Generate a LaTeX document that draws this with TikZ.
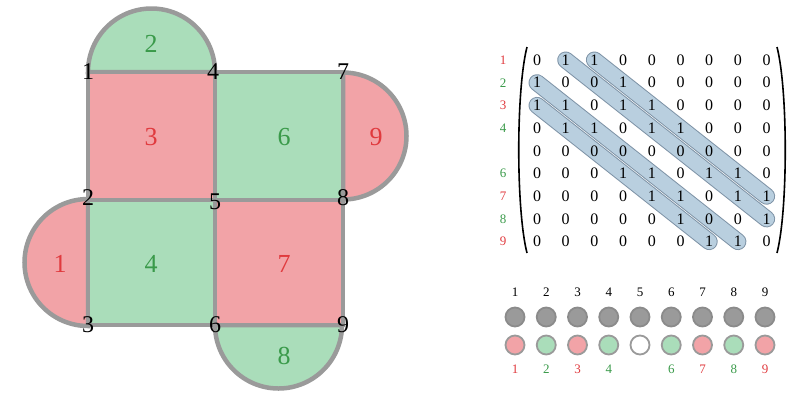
\documentclass[tikz,border=0pt]{standalone}
\usepackage{fontspec}
\setmainfont{Liberation Serif}
\begin{document}
\begin{tikzpicture}[x=1pt,y=-1pt,
  red/.style={fill=fr,draw=gb,line width=4.5pt},
  grn/.style={fill=fg,draw=gb,line width=4.5pt},
  corner/.style={font=\fontsize{24}{24}\selectfont,text=black},
  rl/.style={font=\fontsize{26}{26}\selectfont,text=tr},
  gl/.style={font=\fontsize{26}{26}\selectfont,text=tg},
  ent/.style={font=\fontsize{16}{16}\selectfont,inner sep=0pt},
  sml/.style={font=\fontsize{13}{13}\selectfont,inner sep=0pt},
  dot/.style={circle,minimum size=19pt,inner sep=0pt,line width=1.8pt}]
\definecolor{fr}{HTML}{F2A3A7}
\definecolor{fg}{HTML}{AADDBA}
\definecolor{gb}{HTML}{9A9A9A}
\definecolor{tr}{HTML}{E03A3E}
\definecolor{tg}{HTML}{3A9A4A}
\definecolor{bf}{HTML}{B9CFDF}
\definecolor{bd}{HTML}{5E7890}
\useasboundingbox (0,0) rectangle (800,410);
% semicircles
\draw[grn] (88,72) arc[start angle=180,end angle=360,radius=63.5] -- cycle;
\draw[red] (343,72.5) arc[start angle=-90,end angle=90,radius=63.5] -- cycle;
\draw[red] (88,199) arc[start angle=270,end angle=90,radius=63.5] -- cycle;
\draw[grn] (215,325) arc[start angle=180,end angle=0,radius=63.5] -- cycle;
% squares
\draw[red] (88,72) rectangle (215,200);
\draw[grn] (215,72) rectangle (343,200);
\draw[grn] (88,200) rectangle (215,325);
\draw[red] (215,200) rectangle (343,325);
% region labels
\node[gl] (r2) at (151,44) {2};
\node[rl] (r3) at (151,137) {3};
\node[gl] (r6) at (284,137) {6};
\node[rl] (r9) at (376,137) {9};
\node[rl] (r1) at (60,264) {1};
\node[gl] (r4) at (151,264) {4};
\node[rl] (r7) at (284,264) {7};
\node[gl] (r8) at (284,356) {8};
% corner labels
\node[corner] (c1) at (88,72) {1};
\node[corner] (c4) at (213,72) {4};
\node[corner] (c7) at (343,72) {7};
\node[corner] (c2) at (88,198) {2};
\node[corner] (c5) at (215,202) {5};
\node[corner] (c8) at (343,198) {8};
\node[corner] (c3) at (88,325) {3};
\node[corner] (c6) at (215,325) {6};
\node[corner] (c9) at (343,325) {9};
% matrix entries
\def\rows{{0,1,1,0,0,0,0,0,0},{1,0,0,1,0,0,0,0,0},{1,1,0,1,1,0,0,0,0},{0,1,1,0,1,1,0,0,0},{0,0,0,0,0,0,0,0,0},{0,0,0,1,1,0,1,1,0},{0,0,0,0,1,1,0,1,1},{0,0,0,0,0,1,0,0,1},{0,0,0,0,0,0,1,1,0}}
\foreach \i in {1,...,9}{
  \foreach \j in {1,...,9}{
    \coordinate (p-\i-\j) at ({537+28.7*(\j-1)},{60+22.7*(\i-1)});
  }}
% bands
\foreach \a/\b in {1-2/8-9,1-3/7-9,2-1/9-8,3-1/9-7}{
  \draw[bd,line width=17pt,line cap=round,opacity=0.8] (p-\a) -- (p-\b);
  \draw[bf,line width=15pt,line cap=round] (p-\a) -- (p-\b);
}
\foreach \i [count=\ii] in {0,1,2,3,4,5,6,7,8}{
  \foreach \j [count=\jj] in {0,1,2,3,4,5,6,7,8}{
    \pgfmathtruncatemacro{\v}{{\rows}[\i][\j]}
    \node[ent] (m-\ii-\jj) at (p-\ii-\jj) {\v};
  }}
% parentheses
\draw[line width=1.6pt] (527,47) .. controls (516,90) and (516,210) .. (527,253);
\draw[line width=1.6pt] (777,47) .. controls (788,90) and (788,210) .. (777,253);
% row labels
\foreach \k/\c in {1/tr,2/tg,3/tr,4/tg,6/tg,7/tr,8/tg,9/tr}{
  \node[sml,text=\c] (rl\k) at (503,{60+22.7*(\k-1)}) {\k};
}
% dots
\foreach \k in {1,...,9}{
  \node[sml] (t\k) at ({515+31.25*(\k-1)},292) {\k};
  \node[dot,fill=gb,draw=gb!90!black] (g\k) at ({515+31.25*(\k-1)},317) {};
}
\foreach \k/\f/\c in {1/fr/tr,2/fg/tg,3/fr/tr,4/fg/tg,6/fg/tg,7/fr/tr,8/fg/tg,9/fr/tr}{
  \node[dot,fill=\f,draw=gb] (d\k) at ({515+31.25*(\k-1)},345) {};
  \node[sml,text=\c] (b\k) at ({515+31.25*(\k-1)},369) {\k};
}
\node[dot,fill=white,draw=gb] (d5) at ({515+31.25*4},345) {};
\end{tikzpicture}
\end{document}
